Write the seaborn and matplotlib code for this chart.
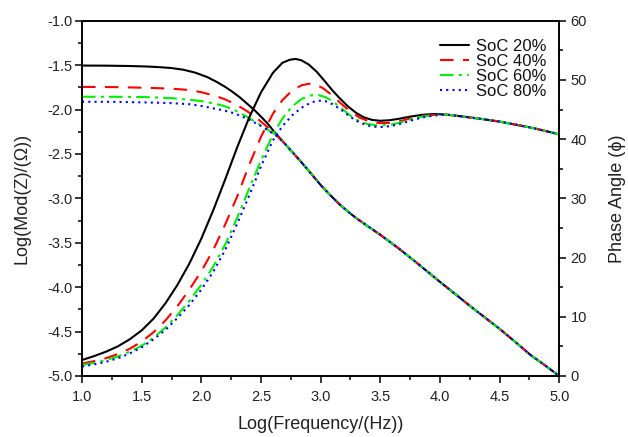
import matplotlib
matplotlib.use("Agg")
import matplotlib.pyplot as plt
import seaborn as sns
from matplotlib.ticker import MultipleLocator, FormatStrFormatter
from matplotlib.lines import Line2D

sns.set_theme(style="white")
plt.rcParams['font.family'] = ['Liberation Sans', 'DejaVu Sans']

labels = ["SoC 20%", "SoC 40%", "SoC 60%", "SoC 80%"]
colors = ["#000000", "#ff0000", "#00ee00", "#0000ff"]

# shared high-frequency tail of the impedance modulus curves
tail_x = [2.69, 2.76, 2.83, 2.90, 2.95, 3.00, 3.07, 3.16, 3.23, 3.30, 3.37, 3.44, 3.50, 3.55,
          3.60, 3.66, 3.73, 3.80, 3.90, 4.00, 4.13, 4.26, 4.38, 4.50, 4.63, 4.76, 4.88, 5.00]
tail_y = [-2.37, -2.475, -2.58, -2.69, -2.77, -2.85, -2.95, -3.07, -3.15, -3.225, -3.29, -3.355, -3.41, -3.46,
          -3.51, -3.57, -3.645, -3.72, -3.83, -3.94, -4.08, -4.22, -4.345, -4.47, -4.615, -4.765, -4.88, -5.00]

mod20_x = [1.0, 1.2, 1.4, 1.55, 1.65, 1.75, 1.85, 1.95, 2.05, 2.13, 2.2, 2.26, 2.32, 2.38, 2.44, 2.50, 2.55, 2.62]
mod20_y = [-1.505, -1.506, -1.51, -1.516, -1.523, -1.533, -1.552, -1.585, -1.635, -1.69, -1.745, -1.80,
           -1.86, -1.93, -2.0, -2.08, -2.15, -2.265]
mod40_x = [1.0, 1.3, 1.54, 1.75, 1.9, 2.0, 2.1, 2.19, 2.27, 2.35, 2.44, 2.53, 2.62]
mod40_y = [-1.745, -1.748, -1.755, -1.765, -1.78, -1.805, -1.84, -1.88, -1.93, -1.99, -2.07, -2.17, -2.28]
mod60_x = [1.0, 1.3, 1.54, 1.75, 1.9, 2.0, 2.1, 2.19, 2.27, 2.38, 2.5, 2.62]
mod60_y = [-1.856, -1.857, -1.86, -1.872, -1.89, -1.905, -1.93, -1.96, -2.0, -2.08, -2.18, -2.28]
mod80_x = [1.0, 1.3, 1.54, 1.75, 1.9, 2.0, 2.1, 2.19, 2.27, 2.38, 2.5, 2.62]
mod80_y = [-1.912, -1.914, -1.92, -1.928, -1.94, -1.96, -1.987, -2.01, -2.04, -2.10, -2.185, -2.285]

# shared tail of the phase curves
ptail_x = [4.05, 4.20, 4.35, 4.50, 4.62, 4.75, 4.88, 5.00]
ptail_y = [44.15, 43.8, 43.4, 42.96, 42.5, 42.0, 41.4, 40.8]

ph20_x = [1.0, 1.1, 1.2, 1.3, 1.4, 1.5, 1.6, 1.7, 1.8, 1.9, 2.0, 2.1, 2.2, 2.3, 2.4, 2.5, 2.6, 2.68, 2.74,
          2.79, 2.84, 2.9, 2.966, 3.03, 3.1, 3.16, 3.23, 3.30, 3.36, 3.43, 3.50, 3.58, 3.66, 3.75, 3.85, 3.95]
ph20_y = [2.7, 3.35, 4.1, 5.0, 6.2, 7.7, 9.7, 12.3, 15.4, 19.0, 23.2, 28.0, 33.2, 38.6, 43.6, 47.9, 51.2, 52.9, 53.4,
          53.55, 53.3, 52.6, 51.4, 49.9, 48.2, 46.9, 45.5, 44.4, 43.7, 43.25, 43.1, 43.2, 43.45, 43.8, 44.1, 44.25]
ph40_x = [1.0, 1.1, 1.2, 1.3, 1.4, 1.5, 1.6, 1.7, 1.8, 1.9, 2.0, 2.1, 2.2, 2.3, 2.4, 2.5, 2.6, 2.68, 2.76,
          2.84, 2.9, 2.96, 3.02, 3.09, 3.16, 3.24, 3.33, 3.42, 3.50, 3.58, 3.66, 3.75, 3.85, 3.95]
ph40_y = [2.1, 2.5, 3.0, 3.7, 4.6, 5.8, 7.4, 9.4, 11.8, 14.6, 17.7, 21.3, 25.6, 30.3, 35.6, 40.4, 44.3, 46.6, 48.2,
          49.1, 49.35, 49.2, 48.6, 47.5, 46.2, 44.8, 43.6, 42.9, 42.7, 42.75, 43.0, 43.5, 43.9, 44.1]
ph60_x = [1.0, 1.1, 1.2, 1.3, 1.4, 1.5, 1.6, 1.7, 1.8, 1.9, 2.0, 2.1, 2.2, 2.3, 2.4, 2.5, 2.6, 2.68, 2.76,
          2.84, 2.92, 2.98, 3.04, 3.1, 3.17, 3.24, 3.31, 3.385, 3.46, 3.53, 3.6, 3.66, 3.75, 3.85, 3.95]
ph60_y = [1.86, 2.2, 2.7, 3.3, 4.1, 5.1, 6.5, 8.2, 10.3, 12.7, 15.4, 18.5, 22.2, 26.7, 31.6, 36.4, 40.8, 43.5, 45.5,
          46.8, 47.4, 47.45, 47.1, 46.4, 45.3, 44.1, 43.2, 42.6, 42.35, 42.35, 42.5, 42.75, 43.3, 43.8, 44.05]
ph80_x = [1.0, 1.1, 1.2, 1.3, 1.4, 1.5, 1.6, 1.7, 1.8, 1.9, 2.0, 2.1, 2.2, 2.3, 2.4, 2.5, 2.6, 2.68, 2.76,
          2.84, 2.92, 2.98, 3.04, 3.1, 3.17, 3.245, 3.31, 3.385, 3.45, 3.52, 3.6, 3.66, 3.75, 3.85, 3.95]
ph80_y = [1.6, 1.95, 2.4, 3.0, 3.8, 4.85, 6.2, 7.8, 9.8, 12.0, 14.6, 17.6, 21.3, 25.7, 30.4, 35.4, 39.8, 42.2, 44.0,
          45.3, 46.2, 46.5, 46.4, 45.9, 45.0, 43.8, 43.0, 42.35, 42.1, 42.05, 42.25, 42.55, 43.1, 43.65, 44.0]

mods = [(mod20_x, mod20_y), (mod40_x, mod40_y), (mod60_x, mod60_y), (mod80_x, mod80_y)]
phases = [(ph20_x, ph20_y), (ph40_x, ph40_y), (ph60_x, ph60_y), (ph80_x, ph80_y)]
dash_styles = [None, (6.5, 4.5), (6.5, 2.5, 1.5, 2.5), (1.0, 2.0)]

fig = plt.figure(figsize=(6.28, 4.37), dpi=100)
ax = fig.add_axes([0.1306, 0.1396, 0.7600, 0.8130])
ax2 = ax.twinx()

lw = 1.5
for (mx, my), (px, py), c, d in zip(mods, phases, colors, dash_styles):
    sns.lineplot(x=mx + tail_x, y=my + tail_y, ax=ax, color=c, lw=lw,
                 sort=False, estimator=None)
    sns.lineplot(x=px + ptail_x, y=py + ptail_y, ax=ax2, color=c, lw=lw,
                 sort=False, estimator=None)
    if d is not None:
        ax.lines[-1].set_dashes(d)
        ax2.lines[-1].set_dashes(d)

ax.set_xlim(1.0, 5.0)
ax.set_ylim(-5.0, -1.0)
ax2.set_ylim(0, 60)

ax.xaxis.set_major_locator(MultipleLocator(0.5))
ax.xaxis.set_minor_locator(MultipleLocator(0.25))
ax.yaxis.set_major_locator(MultipleLocator(0.5))
ax.yaxis.set_minor_locator(MultipleLocator(0.25))
ax2.yaxis.set_major_locator(MultipleLocator(10))
ax2.yaxis.set_minor_locator(MultipleLocator(5))
ax.xaxis.set_major_formatter(FormatStrFormatter('%.1f'))
ax.yaxis.set_major_formatter(FormatStrFormatter('%.1f'))

for a in (ax, ax2):
    for s in a.spines.values():
        s.set_color('black')
        s.set_linewidth(1.2)
    a.grid(False)

tc = '#222222'
ax.tick_params(axis='both', which='major', direction='out', length=5, width=1.1,
               labelsize=10.5, color='black', labelcolor=tc,
               bottom=True, left=True, top=False, right=False)
ax.tick_params(axis='x', which='major', pad=5)
ax.tick_params(axis='y', which='major', pad=2)
ax.tick_params(axis='both', which='minor', direction='out', length=3, width=1.1,
               color='black', bottom=True, left=True, top=False, right=False)
ax2.tick_params(axis='y', which='major', direction='out', length=5, width=1.1, pad=3,
                labelsize=10.5, color='black', labelcolor=tc, right=True)
ax2.tick_params(axis='y', which='minor', direction='out', length=3, width=1.1,
                color='black', right=True)

ax.set_xlabel("Log(Frequency/(Hz))", fontsize=13, color=tc, labelpad=9)
ax.set_ylabel("Log(Mod(Z)/(\u03a9))", fontsize=13, color=tc, labelpad=12)
ax2.set_ylabel("Phase Angle (\u03d5)", fontsize=13, color=tc, labelpad=16)

handles = []
for c, d in zip(colors, dash_styles):
    h = Line2D([0], [0], color=c, lw=lw)
    if d is not None:
        h.set_dashes(d)
    handles.append(h)
fig.legend(handles, labels, loc='upper right', bbox_to_anchor=(547 / 628, 1 - 39 / 437),
           frameon=False, fontsize=12, labelspacing=0.0, handlelength=1.75,
           handletextpad=0.45, borderpad=0, borderaxespad=0, labelcolor='#111111')

fig.savefig("out.png", dpi=100)
